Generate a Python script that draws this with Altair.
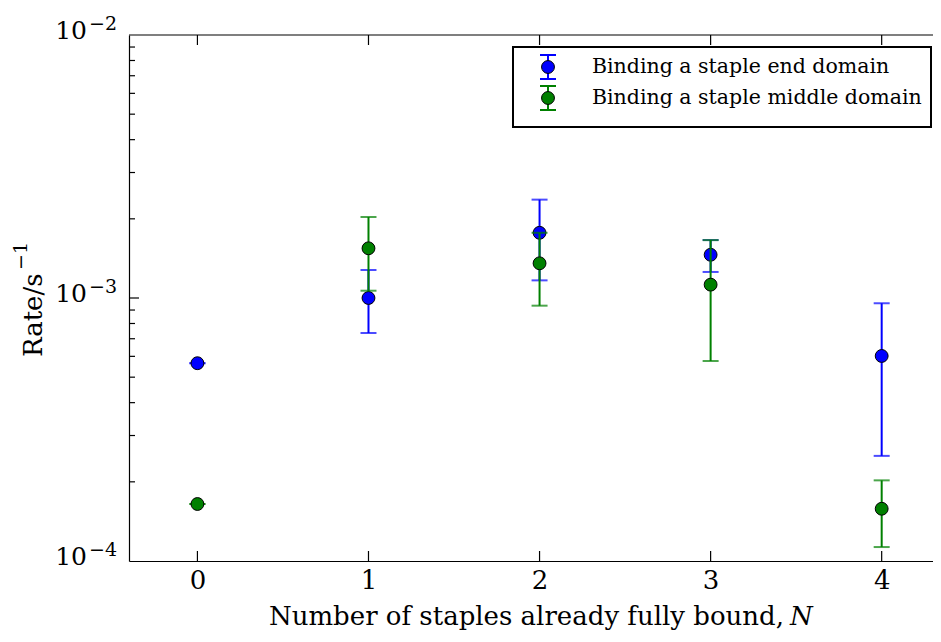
import altair as alt
import pandas as pd

# ---------------- data ----------------
N = [0, 1, 2, 3, 4]
series_names = ["Binding a staple end domain", "Binding a staple middle domain"]
series_colors = ["#0000ff", "#008000"]

end_rate = [5.65e-4, 1.00e-3, 1.77e-3, 1.46e-3, 6.02e-4]
end_lo = [5.65e-4, 7.36e-4, 1.167e-3, 1.256e-3, 2.51e-4]
end_hi = [5.65e-4, 1.278e-3, 2.366e-3, 1.661e-3, 9.55e-4]

mid_rate = [1.647e-4, 1.545e-3, 1.355e-3, 1.124e-3, 1.58e-4]
mid_lo = [1.647e-4, 1.066e-3, 9.35e-4, 5.76e-4, 1.13e-4]
mid_hi = [1.647e-4, 2.032e-3, 1.77e-3, 1.66e-3, 2.026e-4]

y_major = [1e-4, 1e-3, 1e-2]
y_major_base = ["10", "10", "10"]
y_major_exp = ["\u22124", "\u22123", "\u22122"]
y_minor = [2e-4, 3e-4, 4e-4, 5e-4, 6e-4, 7e-4, 8e-4, 9e-4,
           2e-3, 3e-3, 4e-3, 5e-3, 6e-3, 7e-3, 8e-3, 9e-3]
x_title_main = "Number of staples already fully bound,"
x_title_var = "N"
y_title_main = "Rate/s"
y_title_exp = "\u22121"

# ---------------- style ----------------
FONT = "DejaVu Serif"
W, H = 804, 526

xscale = alt.Scale(domain=[-0.4, 4.3], nice=False, zero=False)
yscale = alt.Scale(type="log", domain=[1e-4, 1e-2], nice=False)

xaxis = alt.Axis(values=N, ticks=False, grid=False, title=None,
                 labelFontSize=26, labelFont=FONT, labelPadding=6,
                 labelColor="black", domainColor="black", domainWidth=1.2,
                 labelFlush=False)
yaxis = alt.Axis(values=y_major, ticks=False, grid=False, labels=False, title=None,
                 domainColor="black", domainWidth=1.2)


def X(field):
    return alt.X(field, type="quantitative", scale=xscale, axis=xaxis)


def Y(field):
    return alt.Y(field, type="quantitative", scale=yscale, axis=yaxis)


series_data = [
    (series_names[0], series_colors[0], end_rate, end_lo, end_hi),
    (series_names[1], series_colors[1], mid_rate, mid_lo, mid_hi),
]

layers = []
one = pd.DataFrame({"a": [0]})

# inward ticks and top spine
xt = pd.DataFrame({"N": N})
layers.append(alt.Chart(xt).mark_rule(color="black", strokeWidth=1.2).encode(
    x=X("N"), y=alt.value(H), y2=alt.value(H - 10)))
layers.append(alt.Chart(xt).mark_rule(color="black", strokeWidth=1.2).encode(
    x=X("N"), y=alt.value(0), y2=alt.value(10)))
layers.append(alt.Chart(one).mark_rule(color="black", strokeWidth=1.2).encode(
    x=alt.value(0), x2=alt.value(W), y=alt.value(0)))
layers.append(alt.Chart(pd.DataFrame({"v": y_minor})).mark_rule(color="black", strokeWidth=1.2).encode(
    y=Y("v"), x=alt.value(0), x2=alt.value(6)))
layers.append(alt.Chart(pd.DataFrame({"v": [y_major[1]]})).mark_rule(color="black", strokeWidth=1.2).encode(
    y=Y("v"), x=alt.value(0), x2=alt.value(10)))

# y tick labels 10^k with a real raised exponent
ylab = pd.DataFrame({"v": y_major, "base": y_major_base, "exp": y_major_exp})
layers.append(alt.Chart(ylab).mark_text(align="right", baseline="middle", font=FONT,
                                        fontSize=25, color="black", dy=-4).encode(
    y=Y("v"), x=alt.value(-42), text="base:N"))
layers.append(alt.Chart(ylab).mark_text(align="left", baseline="middle", font=FONT,
                                        fontSize=19, color="black", dy=-11).encode(
    y=Y("v"), x=alt.value(-40), text="exp:N"))

# data series
for name, color, rate, lo, hi in series_data:
    df = pd.DataFrame({"N": N, "rate": rate, "lo": lo, "hi": hi})
    base = alt.Chart(df)
    layers.append(base.mark_rule(color=color, strokeWidth=2).encode(
        x=X("N"), y=Y("lo"), y2="hi"))
    layers.append(base.mark_tick(color=color, orient="horizontal", size=16, thickness=2).encode(
        x=X("N"), y=Y("hi")))
    layers.append(base.mark_tick(color=color, orient="horizontal", size=16, thickness=2).encode(
        x=X("N"), y=Y("lo")))
    layers.append(base.mark_point(filled=True, shape="circle", size=165, fill=color,
                                  stroke="black", strokeWidth=1, opacity=1).encode(
        x=X("N"), y=Y("rate")))

# legend box (drawn manually to show the error-bar glyph)
layers.append(alt.Chart(one).mark_rect(fill="white", stroke="black", strokeWidth=2).encode(
    x=alt.value(384), x2=alt.value(802), y=alt.value(12), y2=alt.value(92)))
row_y = [32, 63]
for (name, color, *_), ry in zip(series_data, row_y):
    layers.append(alt.Chart(one).mark_rule(color=color, strokeWidth=2).encode(
        x=alt.value(419), y=alt.value(ry - 12), y2=alt.value(ry + 12)))
    for cy in (ry - 12, ry + 12):
        layers.append(alt.Chart(one).mark_rule(color=color, strokeWidth=2).encode(
            x=alt.value(411), x2=alt.value(427), y=alt.value(cy)))
    layers.append(alt.Chart(one).mark_point(filled=True, shape="circle", size=165, fill=color,
                                            stroke="black", strokeWidth=1, opacity=1).encode(
        x=alt.value(419), y=alt.value(ry)))
    layers.append(alt.Chart(one).mark_text(align="left", baseline="middle", font=FONT,
                                           fontSize=20.5, color="black").encode(
        x=alt.value(463), y=alt.value(ry), text=alt.value(name)))

# x-axis title with italic N
layers.append(alt.Chart(one).mark_text(align="right", baseline="middle", font=FONT,
                                       fontSize=26, color="black").encode(
    x=alt.value(655), y=alt.value(582), text=alt.value(x_title_main)))
layers.append(alt.Chart(one).mark_text(align="left", baseline="middle", font=FONT,
                                       fontSize=26, fontStyle="italic", color="black").encode(
    x=alt.value(661), y=alt.value(582), text=alt.value(x_title_var)))

# y-axis title with raised exponent
layers.append(alt.Chart(one).mark_text(align="left", baseline="middle", font=FONT,
                                       fontSize=26, angle=270, color="black").encode(
    x=alt.value(-95), y=alt.value(322), text=alt.value(y_title_main)))
layers.append(alt.Chart(one).mark_text(align="left", baseline="middle", font=FONT,
                                       fontSize=19, angle=270, color="black").encode(
    x=alt.value(-108), y=alt.value(235), text=alt.value(y_title_exp)))

chart = alt.layer(*layers).properties(
    width=W, height=H,
    autosize=alt.AutoSizeParams(type="none"),
    padding={"left": 121, "top": 27, "right": 0, "bottom": 72},
).configure_view(stroke="transparent")

chart.save("out.html", embed_options={"renderer": "svg", "actions": False})
